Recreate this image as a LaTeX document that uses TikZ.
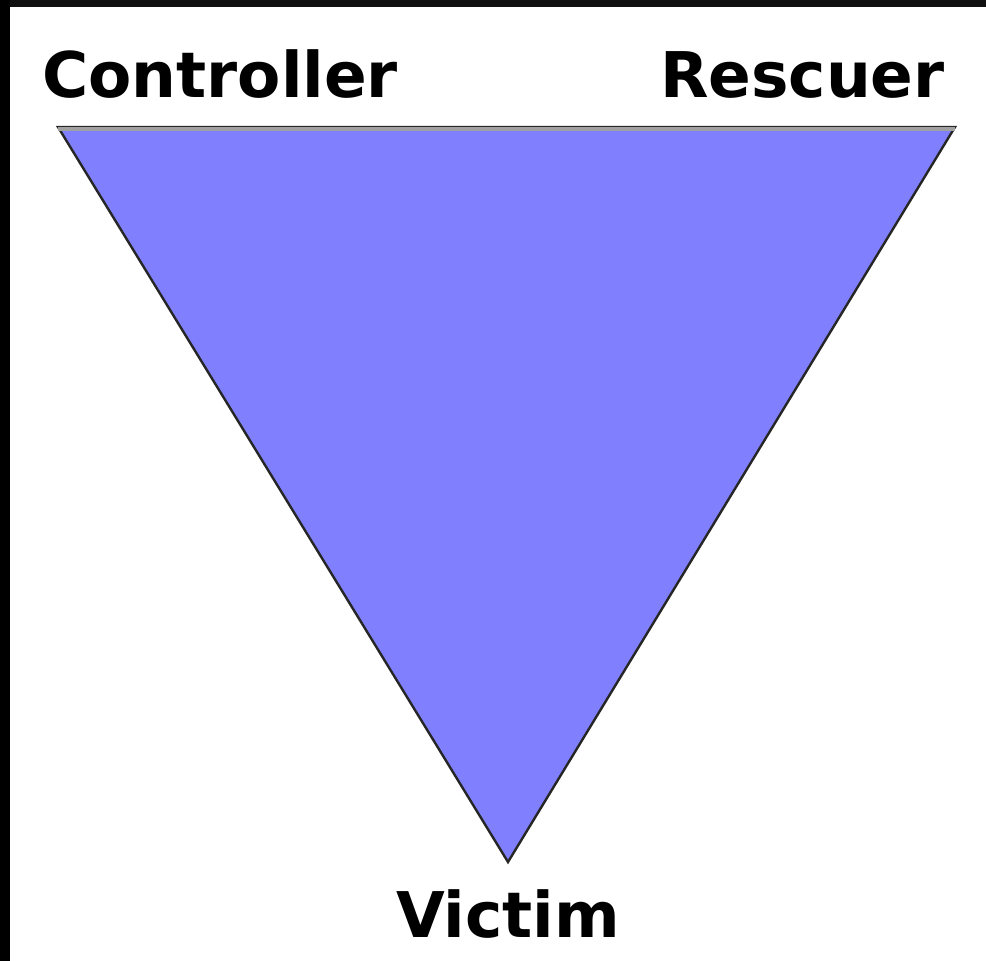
\documentclass[tikz,border=0pt]{standalone}
\usepackage{fontspec}
\setmainfont{DejaVu Sans}
\definecolor{trifill}{RGB}{128,128,255}
\definecolor{topgray}{RGB}{160,160,160}
\definecolor{frameblack}{RGB}{16,16,16}
\begin{document}
\begin{tikzpicture}[x=1pt,y=-1pt,
  lbl/.style={font=\fontsize{63}{70}\selectfont\bfseries, inner sep=0pt, text=black},
  tri/.style={fill=trifill, draw=black!85, line width=2.4pt, line join=miter}]
\useasboundingbox (0,0) rectangle (986,961);
\fill[white] (0,0) rectangle (986,961);
\fill[frameblack] (0,0) rectangle (986,7);
\fill[black] (0,0) rectangle (10,961);
\coordinate (tl) at (58,127);
\coordinate (tr) at (955,127);
\coordinate (bt) at (508,862);
\draw[tri] (tl) -- (tr) -- (bt) -- cycle;
\draw[topgray, line width=4pt] ([yshift=-2pt]tl) -- ([yshift=-2pt]tr);
\node[lbl, anchor=base west] (ctrl) at (42,97) {Controller};
\node[lbl, anchor=base east] (resc) at (945,97) {Rescuer};
\node[lbl, anchor=base] (vict) at (508,937) {Victim};
\end{tikzpicture}
\end{document}
